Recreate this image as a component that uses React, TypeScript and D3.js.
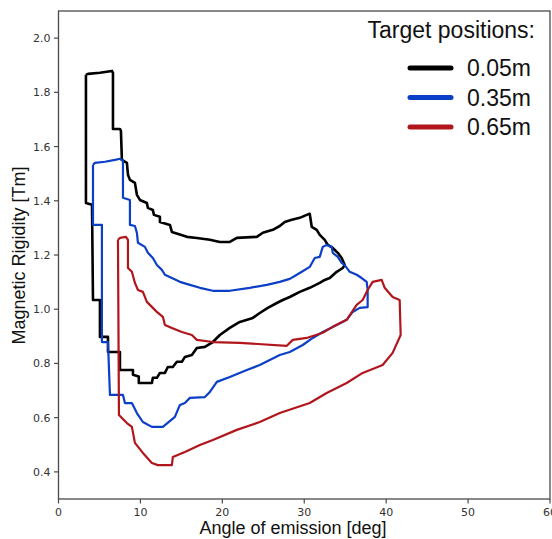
import React from "react";
import * as d3 from "d3";

const W = 552;
const H = 539;

const xTicks = [0, 10, 20, 30, 40, 50, 60];
const yTicks = [0.4, 0.6, 0.8, 1.0, 1.2, 1.4, 1.6, 1.8, 2.0];

const seriesNames = ["0.05m", "0.35m", "0.65m"];
const seriesColors = ["#000000", "#0b3fc8", "#b0161c"];

// Target 0.05m (black) loop: angle [deg], rigidity [Tm]
const blackX = [3.35, 3.6, 5.06, 6.52, 6.65, 6.65, 7.5, 7.62, 7.74, 8.35, 8.48, 8.72, 9.33, 9.57, 9.94, 10.79, 10.91, 11.52, 11.65, 12.38, 12.38, 13.6, 13.84, 15.67, 16.89, 18.48, 19.7, 20.91, 21.77, 24.21, 24.94, 26.16, 27.01, 27.62, 28.48, 29.45, 30.3, 30.67, 30.91, 31.52, 31.89, 32.5, 32.87, 33.48, 34.09, 34.57, 34.94, 34.7, 33.96, 33.11, 32.5, 31.89, 30.67, 29.45, 28.23, 27.38, 26.65, 25.55, 24.57, 23.72, 22.13, 20.91, 19.7, 18.84, 17.87, 16.89, 16.28, 15.43, 15.06, 14.45, 13.96, 13.35, 12.99, 12.38, 12.01, 11.52, 11.4, 10.18, 9.8, 9.8, 9.09, 9.09, 7.5, 7.5, 6.04, 6.04, 5.06, 5.06, 4.21, 4.09, 3.35, 3.35];
const blackY = [1.865, 1.868, 1.872, 1.879, 1.872, 1.665, 1.665, 1.658, 1.551, 1.54, 1.496, 1.477, 1.466, 1.422, 1.403, 1.392, 1.374, 1.366, 1.348, 1.341, 1.322, 1.311, 1.285, 1.267, 1.263, 1.256, 1.248, 1.248, 1.263, 1.267, 1.282, 1.293, 1.307, 1.322, 1.33, 1.337, 1.348, 1.352, 1.304, 1.293, 1.274, 1.256, 1.237, 1.226, 1.208, 1.189, 1.163, 1.152, 1.138, 1.115, 1.108, 1.097, 1.079, 1.064, 1.045, 1.034, 1.023, 1.005, 0.986, 0.968, 0.953, 0.931, 0.905, 0.879, 0.861, 0.857, 0.831, 0.824, 0.806, 0.806, 0.787, 0.787, 0.765, 0.765, 0.747, 0.747, 0.728, 0.728, 0.728, 0.752, 0.758, 0.776, 0.776, 0.842, 0.842, 0.898, 0.898, 1.034, 1.034, 1.385, 1.392, 1.865];

// Target 0.35m (blue) loop
const blueX = [4.21, 4.45, 5.67, 6.89, 7.5, 7.87, 7.87, 8.72, 8.72, 9.33, 9.57, 9.7, 10.55, 10.91, 11.52, 12.01, 12.62, 12.99, 13.84, 14.82, 16.04, 17.26, 18.84, 20.91, 23.35, 25.43, 27.01, 28.23, 29.09, 29.7, 30.67, 31.28, 31.89, 32.26, 32.74, 33.35, 33.48, 34.09, 34.57, 34.94, 35.55, 36.4, 37.01, 37.62, 37.74, 37.74, 36.77, 35.91, 35.18, 33.96, 32.26, 31.04, 29.82, 28.23, 27.01, 25.79, 24.57, 22.99, 20.91, 19.33, 18.48, 17.87, 16.04, 15.43, 14.82, 14.21, 12.74, 11.4, 10.3, 9.57, 8.96, 8.11, 7.87, 6.28, 6.04, 5.3, 5.3, 4.21, 4.21];
const blueY = [1.532, 1.54, 1.544, 1.551, 1.555, 1.547, 1.411, 1.403, 1.311, 1.307, 1.282, 1.245, 1.23, 1.208, 1.189, 1.163, 1.145, 1.127, 1.115, 1.101, 1.09, 1.079, 1.068, 1.068, 1.079, 1.09, 1.101, 1.112, 1.127, 1.138, 1.156, 1.189, 1.193, 1.23, 1.237, 1.23, 1.208, 1.193, 1.171, 1.163, 1.138, 1.127, 1.115, 1.101, 1.071, 1.008, 1.005, 0.99, 0.961, 0.942, 0.916, 0.894, 0.868, 0.842, 0.831, 0.813, 0.794, 0.776, 0.75, 0.732, 0.695, 0.676, 0.673, 0.654, 0.647, 0.603, 0.566, 0.566, 0.584, 0.617, 0.654, 0.654, 0.684, 0.684, 0.879, 0.879, 1.311, 1.311, 1.532];

// Target 0.65m (red) loop
const redX = [7.26, 7.5, 8.23, 8.48, 8.48, 8.96, 9.33, 9.7, 10.3, 10.79, 11.52, 12.01, 12.74, 12.99, 13.84, 15.06, 16.28, 16.89, 18.84, 22.13, 27.87, 28.6, 30.3, 32.26, 33.48, 35.18, 36.4, 37.13, 37.74, 38.35, 39.45, 39.82, 40.79, 41.65, 41.77, 40.79, 39.57, 37.13, 35.18, 32.74, 30.67, 27.01, 24.57, 21.77, 18.84, 17.26, 15.43, 13.96, 13.84, 12.13, 11.4, 10.3, 9.33, 8.96, 8.35, 7.38, 7.26];
const redY = [1.256, 1.263, 1.267, 1.256, 1.152, 1.138, 1.097, 1.071, 1.064, 1.027, 1.005, 0.99, 0.972, 0.942, 0.931, 0.916, 0.905, 0.887, 0.879, 0.876, 0.865, 0.887, 0.894, 0.913, 0.935, 0.961, 1.016, 1.034, 1.071, 1.101, 1.108, 1.079, 1.045, 1.034, 0.905, 0.839, 0.794, 0.765, 0.728, 0.691, 0.654, 0.617, 0.584, 0.555, 0.518, 0.499, 0.473, 0.455, 0.425, 0.425, 0.433, 0.47, 0.507, 0.566, 0.58, 0.61, 1.256];

const seriesX = [blackX, blueX, redX];
const seriesY = [blackY, blueY, redY];

export default function App() {
  const left = 58.5;
  const right = 550;
  const top = 11;
  const bottom = 499;
  const x = d3.scaleLinear().domain([0, 60]).range([left, right]);
  const y = d3.scaleLinear().domain([0.3, 2.1]).range([bottom, top]);

  const line = d3
    .line<[number, number]>()
    .x((d) => x(d[0]))
    .y((d) => y(d[1]))
    .curve(d3.curveLinear);

  const font = "'Liberation Sans', Arial, sans-serif";
  const tickFont = "'DejaVu Sans', sans-serif";
  const axisColor = "#4a4a4a";

  return (
    <svg
      width={W}
      height={H}
      viewBox={`0 0 ${W} ${H}`}
      style={{ position: "absolute", left: 0, top: 0, background: "#fff" }}
    >
      <rect x={0} y={0} width={W} height={H} fill="#fff" />
      {seriesX.map((xs, i) => {
        const pts: [number, number][] = xs.map((v, j) => [v, seriesY[i][j]]);
        return (
          <path
            key={seriesNames[i]}
            d={line(pts) || ""}
            fill="none"
            stroke={seriesColors[i]}
            strokeWidth={i === 0 ? 2.6 : 2.2}
            strokeLinejoin="round"
          />
        );
      })}
      {/* frame */}
      <rect
        x={left}
        y={top}
        width={right - left}
        height={bottom - top}
        fill="none"
        stroke={axisColor}
        strokeWidth={1.3}
      />
      {xTicks.map((t) => (
        <g key={"x" + t}>
          <line x1={x(t)} x2={x(t)} y1={bottom} y2={bottom + 4.5} stroke={axisColor} strokeWidth={1.2} />
          <text
            x={x(t)}
            y={bottom + 17}
            textAnchor="middle"
            fontFamily={tickFont}
            fontSize={11}
            fill="#333"
          >
            {t}
          </text>
        </g>
      ))}
      {yTicks.map((t) => (
        <g key={"y" + t}>
          <line x1={left - 4.5} x2={left} y1={y(t)} y2={y(t)} stroke={axisColor} strokeWidth={1.2} />
          <text
            x={left - 8}
            y={y(t)}
            dy="0.36em"
            textAnchor="end"
            fontFamily={tickFont}
            fontSize={11}
            fill="#333"
          >
            {t.toFixed(1)}
          </text>
        </g>
      ))}
      <text
        x={293}
        y={534}
        textAnchor="middle"
        fontFamily={font}
        fontSize={18}
        fill="#111"
      >
        Angle of emission [deg]
      </text>
      <text
        transform={`translate(25, ${255.5}) rotate(-90)`}
        textAnchor="middle"
        fontFamily={font}
        fontSize={18}
        fill="#111"
      >
        Magnetic Rigidity [Tm]
      </text>
      {/* legend */}
      <text x={535} y={37.5} textAnchor="end" fontFamily={font} fontSize={23} fill="#111">
        Target positions:
      </text>
      {seriesNames.map((n, i) => {
        const cy = 68 + i * 29.5;
        return (
          <g key={"leg" + n}>
            <line
              x1={410}
              x2={451}
              y1={cy}
              y2={cy}
              stroke={seriesColors[i]}
              strokeWidth={5}
              strokeLinecap="round"
            />
            <text x={467} y={cy + 8.3} fontFamily={font} fontSize={23} fill="#111">
              {n}
            </text>
          </g>
        );
      })}
    </svg>
  );
}
